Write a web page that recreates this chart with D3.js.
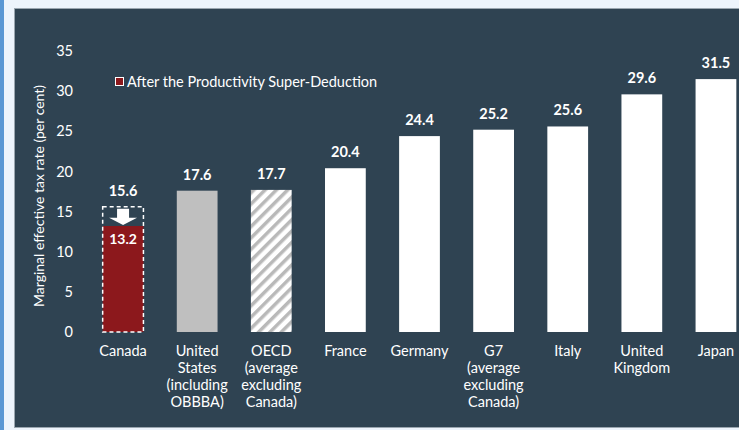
<!DOCTYPE html>
<html>
<head>
<meta charset="utf-8">
<title>Marginal effective tax rates</title>
<script src="https://cdn.jsdelivr.net/npm/d3@7"></script>
<style>
  body { margin: 0; background: #edf4fc; }
  svg { display: block; font-family: Lato, "Open Sans", sans-serif; }
</style>
</head>
<body>
<svg width="739" height="430"></svg>
<script>
// chart data
var labels = [
  ["Canada"],
  ["United", "States", "(including", "OBBBA)"],
  ["OECD", "(average", "excluding", "Canada)"],
  ["France"],
  ["Germany"],
  ["G7", "(average", "excluding", "Canada)"],
  ["Italy"],
  ["United", "Kingdom"],
  ["Japan"]
];
var values = [15.6, 17.6, 17.7, 20.4, 24.4, 25.2, 25.6, 29.6, 31.5];
var afterValue = 13.2;   // Canada after the super-deduction
var yTicks = [0, 5, 10, 15, 20, 25, 30, 35];
var legendLabel = "After the Productivity Super-Deduction";
var yTitle = "Marginal effective tax rate (per cent)";

var svg = d3.select("svg");

// outer frame bits
svg.append("rect").attr("x", 0).attr("y", 0).attr("width", 739).attr("height", 430).attr("fill", "#edf4fc");
svg.append("rect").attr("x", 0).attr("y", 0).attr("width", 4).attr("height", 430).attr("fill", "#5a97d4");
svg.append("rect").attr("x", 14.5).attr("y", 8.5).attr("width", 740).attr("height", 419)
  .attr("fill", "#2f4352").attr("stroke", "#9aa6b0").attr("stroke-width", 1);

// hatch pattern for OECD
var defs = svg.append("defs");
var pat = defs.append("pattern").attr("id", "hatch").attr("patternUnits", "userSpaceOnUse")
  .attr("width", 8).attr("height", 8).attr("patternTransform", "rotate(45)");
pat.append("rect").attr("width", 8).attr("height", 8).attr("fill", "#ffffff");
pat.append("rect").attr("x", 0).attr("width", 3.5).attr("height", 8).attr("fill", "#b9b9b9");

var x = d3.scaleBand().domain(d3.range(values.length)).range([86, 753]).paddingInner(0.45).paddingOuter(0.225);
var y = d3.scaleLinear().domain([0, 35]).range([332, 51]);

// y axis (labels only)
var yAxis = svg.append("g").attr("transform", "translate(73,0)")
  .call(d3.axisLeft(y).tickValues(yTicks).tickSize(0).tickPadding(0));
yAxis.select(".domain").remove();
yAxis.selectAll("text").attr("fill", "#ffffff").style("font-size", "14.5px").style("font-family", "Lato, sans-serif");

svg.append("text")
  .attr("transform", "translate(44,196) rotate(-90)")
  .attr("text-anchor", "middle")
  .attr("fill", "#ffffff")
  .style("font-size", "14px")
  .text(yTitle);

function barFill(i) {
  if (i == 1) return "#bfbfbf";
  if (i == 2) return "url(#hatch)";
  return "#ffffff";
}

// bars (Canada drawn separately)
svg.append("g").selectAll("rect").data(values.slice(1)).enter().append("rect")
  .attr("x", function (d, i) { return x(i + 1); })
  .attr("y", function (d) { return y(d); })
  .attr("width", x.bandwidth())
  .attr("height", function (d) { return y(0) - y(d); })
  .attr("fill", function (d, i) { return barFill(i + 1); });

// Canada: red bar + dashed outline of the old rate
svg.append("rect")
  .attr("x", x(0)).attr("y", y(afterValue))
  .attr("width", x.bandwidth()).attr("height", y(0) - y(afterValue))
  .attr("fill", "#8c181c");
svg.append("rect")
  .attr("x", x(0)).attr("y", y(values[0]))
  .attr("width", x.bandwidth()).attr("height", y(0) - y(values[0]))
  .attr("fill", "none").attr("stroke", "#ffffff").attr("stroke-width", 1.5)
  .attr("stroke-dasharray", "4,3");

// down arrow
var cx = x(0) + x.bandwidth() / 2;
var arrTop = y(values[0]) + 2, arrTip = y(afterValue) - 1;
svg.append("path")
  .attr("d", "M" + (cx - 6) + "," + arrTop + "H" + (cx + 6) + "V" + (arrTop + 9) + "H" + (cx + 14) +
    "L" + cx + "," + arrTip + "L" + (cx - 14) + "," + (arrTop + 9) + "H" + (cx - 6) + "Z")
  .attr("fill", "#ffffff");

svg.append("text")
  .attr("x", cx).attr("y", y(afterValue) + 18)
  .attr("text-anchor", "middle").attr("fill", "#ffffff")
  .style("font-size", "14px").style("font-weight", "bold")
  .text(afterValue.toFixed(1));

// value labels
svg.append("g").selectAll("text").data(values).enter().append("text")
  .attr("x", function (d, i) { return x(i) + x.bandwidth() / 2; })
  .attr("y", function (d) { return y(d) - 11; })
  .attr("text-anchor", "middle")
  .attr("fill", "#ffffff")
  .style("font-size", "14.5px")
  .style("font-weight", "bold")
  .text(function (d) { return d.toFixed(1); });

// category labels
var cat = svg.append("g").selectAll("text").data(labels).enter().append("text")
  .attr("x", function (d, i) { return x(i) + x.bandwidth() / 2; })
  .attr("y", 356)
  .attr("text-anchor", "middle")
  .attr("fill", "#ffffff")
  .style("font-size", "14.5px");
cat.selectAll("tspan").data(function (d) { return d; }).enter().append("tspan")
  .attr("x", function () { return d3.select(this.parentNode).attr("x"); })
  .attr("dy", function (d, i) { return i == 0 ? 0 : 17; })
  .text(function (d) { return d; });

// legend
svg.append("rect").attr("x", 115.5).attr("y", 77.5).attr("width", 8).attr("height", 8)
  .attr("fill", "#8c181c").attr("stroke", "#ffffff").attr("stroke-width", 1);
svg.append("text").attr("x", 127).attr("y", 87)
  .attr("fill", "#ffffff").style("font-size", "14.5px")
  .text(legendLabel);
</script>
</body>
</html>
